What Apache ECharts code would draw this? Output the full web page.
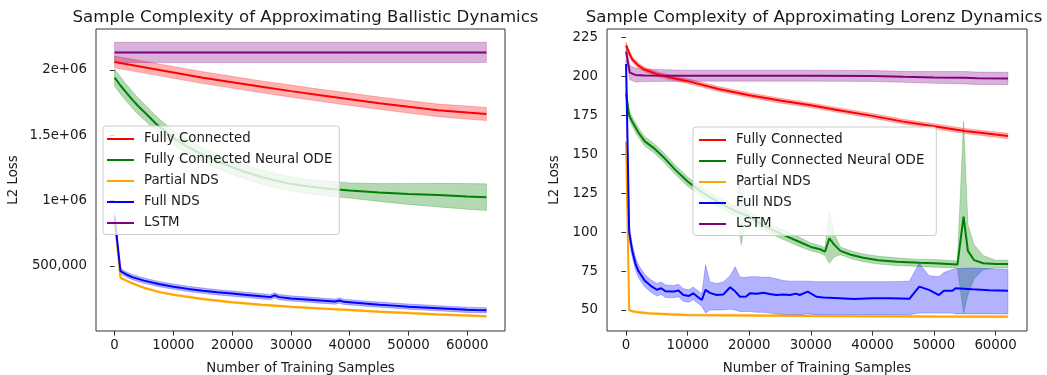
<!DOCTYPE html>
<html><head><meta charset="utf-8">
<script src="https://cdn.jsdelivr.net/npm/echarts@6/dist/echarts.min.js"></script>
<style>html,body{margin:0;padding:0;background:#fff}#c{width:1047px;height:375px}</style>
</head><body><div id="c"></div>
<script>
// ---------- tick labels ----------
const xTicks = [0, 10000, 20000, 30000, 40000, 50000, 60000];
const yTicksBallistic = [500000, 1000000, 1500000, 2000000];
const yTickLabelsBallistic = ['500,000', '1e+06', '1.5e+06', '2e+06'];
const yTicksLorenz = [50, 75, 100, 125, 150, 175, 200, 225];
const seriesNames = ['Fully Connected', 'Fully Connected Neural ODE', 'Partial NDS', 'Full NDS', 'LSTM'];

// ---------- Ballistic (left) : x, mean, half band ----------
const bFC_x = [0, 5000, 10000, 15000, 20000, 25000, 30000, 35000, 40000, 45000, 50000, 55000, 60000, 63250];
const bFC_y = [2060000, 2020000, 1980000, 1940000, 1905000, 1870000, 1837000, 1805000, 1775000, 1745000, 1717000, 1690000, 1673000, 1662000];
const bFC_hw = [45000, 45000, 45000, 45000, 45000, 45000, 46000, 46000, 47000, 47000, 48000, 48000, 50000, 50000];

const bODE_x = [0, 1000, 2000, 3000, 4000, 5000, 6000, 7000, 8000, 10000, 12500, 15000, 17500, 20000, 22500, 25000, 27500, 30000, 33000, 36000, 40000, 45000, 50000, 55000, 60000, 63250];
const bODE_y = [1940000, 1880000, 1825000, 1772000, 1723000, 1680000, 1635000, 1590000, 1550000, 1480000, 1410000, 1350000, 1300000, 1255000, 1215000, 1180000, 1152000, 1128000, 1108000, 1093000, 1077000, 1062000, 1051000, 1042000, 1032000, 1026000];
const bODE_hw = [65000, 65000, 65000, 65000, 62000, 60000, 60000, 58000, 58000, 55000, 55000, 55000, 55000, 55000, 55000, 55000, 55000, 55000, 55000, 57000, 58000, 68000, 80000, 90000, 98000, 102000];

const bPNDS_x = [0, 1000, 2000, 3000, 5000, 7500, 10000, 15000, 20000, 25000, 30000, 35000, 40000, 45000, 50000, 55000, 60000, 63250];
const bPNDS_y = [850000, 410000, 388000, 368000, 333000, 302000, 280000, 247000, 222000, 203000, 188000, 175000, 163000, 151000, 140000, 130000, 121000, 115000];
const bPNDS_hw = [10000, 8000, 8000, 8000, 8000, 8000, 8000, 8000, 8000, 8000, 8000, 8000, 8000, 8000, 8000, 8000, 8000, 8000];

const bFNDS_x = [0, 1000, 2000, 3000, 5000, 7500, 10000, 12500, 15000, 17500, 20000, 22500, 25000, 26500, 27200, 28000, 30000, 32500, 35000, 37500, 38300, 39000, 42500, 45000, 47500, 50000, 52500, 55000, 57500, 60000, 61500, 63250];
const bFNDS_y = [880000, 460000, 435000, 415000, 388000, 362000, 342000, 325000, 311000, 299000, 289000, 279000, 268000, 262000, 276000, 262000, 252000, 244000, 236000, 228000, 236000, 226000, 213000, 204000, 197000, 189000, 183000, 177000, 171000, 165000, 163000, 161000];
const bFNDS_hw = [30000, 22000, 20000, 20000, 20000, 20000, 20000, 20000, 20000, 20000, 20000, 20000, 20000, 20000, 20000, 20000, 20000, 20000, 20000, 20000, 20000, 20000, 20000, 20000, 20000, 20000, 20000, 20000, 20000, 20000, 20000, 20000];

const bLSTM_x = [0, 10000, 20000, 30000, 40000, 50000, 60000, 63250];
const bLSTM_y = [2133000, 2133000, 2133000, 2133000, 2133000, 2133000, 2133000, 2133000];
const bLSTM_hw = [77000, 77000, 77000, 77000, 77000, 77000, 77000, 77000];

// ---------- Lorenz (right) ----------
const lFC_x = [0, 500, 1000, 2000, 3000, 5000, 7000, 10000, 15000, 20000, 25000, 30000, 35000, 40000, 45000, 50000, 55000, 60000, 62000];
const lFC_y = [220, 215, 211, 207, 204.5, 201.5, 199.5, 197, 192, 188, 184.5, 181.5, 178, 174.7, 171, 168, 165, 162.7, 161.8];
const lFC_hw = [2, 2, 1.8, 1.6, 1.5, 1.5, 1.5, 1.5, 1.5, 1.5, 1.5, 1.5, 1.5, 1.5, 1.5, 1.6, 1.6, 1.7, 1.7];

const lODE_x = [0, 500, 1000, 2000, 3000, 4500, 6000, 8000, 10000, 12000, 14000, 16000, 18000, 18700, 19400, 20000, 22000, 24000, 26000, 28000, 30000, 31500, 32300, 33000, 33800, 34800, 36500, 38500, 41000, 44000, 47600, 50000, 53800, 54800, 55500, 56500, 58000, 60000, 62000];
const lODE_y = [189, 175, 171, 164, 158.5, 154, 148.5, 140, 132.5, 126.5, 121.5, 117, 113, 112, 111, 110, 105, 101, 97.5, 94, 90.5, 89, 87.5, 96, 92, 88, 85.5, 83.5, 82, 81, 80.3, 80, 79.2, 110, 88, 82, 80, 79.5, 79.5];
const lODE_lo = [186, 172, 168, 161, 155.5, 151, 145.5, 137, 129.5, 123.5, 118.5, 114, 110, 92, 108, 107, 102, 98, 94.5, 91, 88, 86.5, 85, 80, 84, 85.5, 83, 81, 79.5, 78.5, 78, 77.5, 77, 48, 60, 70, 76, 77, 77];
const lODE_hi = [192, 178, 174, 167, 161.5, 157, 151.5, 143, 135.5, 129.5, 124.5, 120, 116, 148, 114, 113, 108, 104, 100.5, 97, 93, 91.5, 90, 113, 99, 90.5, 88, 86, 84.5, 83.5, 82.5, 82.5, 81.5, 171, 105, 92, 85, 82, 82];

const lPNDS_x = [0, 500, 1000, 2000, 4000, 7000, 10000, 20000, 30000, 40000, 50000, 62000];
const lPNDS_y = [158, 50, 49.2, 48.5, 47.8, 47.2, 46.8, 46.5, 46.2, 46, 45.8, 45.7];
const lPNDS_hw = [0.8, 0.8, 0.7, 0.7, 0.7, 0.7, 0.7, 0.7, 0.7, 0.7, 0.7, 0.7];

const lFNDS_x = [0, 500, 1000, 1500, 2000, 3000, 4000, 5000, 5700, 6400, 7700, 8500, 9300, 10200, 10900, 11600, 12300, 12900, 13600, 14700, 15800, 16900, 17700, 18500, 19500, 20100, 21200, 22300, 23300, 24400, 25500, 26600, 27600, 28200, 29500, 30900, 32000, 34700, 37000, 40000, 43000, 46000, 47600, 49200, 50800, 51600, 53000, 53500, 56200, 59000, 62000];
const lFNDS_y = [208, 100, 88, 80, 75, 69, 65.5, 63, 64, 62, 61.8, 62.5, 59.6, 59, 60.7, 58.5, 56.4, 63, 61, 59.6, 60, 64.6, 62, 58.5, 58.7, 60.7, 60.5, 61.1, 60.3, 59.6, 60, 59.6, 60.5, 59.6, 61.8, 58.5, 58, 57.5, 57, 57.5, 57.5, 57.2, 65, 62.9, 59.6, 62.4, 62.4, 64, 63.3, 62.6, 62.4];
const lFNDS_lo = [205, 95, 84, 76, 71, 65, 61.5, 59, 60, 58, 57.8, 58.5, 55.6, 55, 56.7, 54.5, 52.4, 48, 50, 50, 50, 50.5, 50, 49, 49, 49, 48.5, 48.5, 48, 47.5, 47, 47, 47, 47, 47.5, 47, 47, 47, 47, 47, 47, 47, 48, 48, 48, 48, 48, 47.5, 47.5, 47.5, 47.5];
const lFNDS_hi = [211, 105, 92, 84, 79, 73, 69.5, 67, 68, 66, 65.8, 66.5, 63.6, 63, 64.7, 62.5, 60.4, 79, 68, 67, 68, 72, 77.8, 71, 71, 71.4, 71.4, 71, 71, 70, 69, 68.5, 68.5, 68.5, 68.5, 68.2, 68.2, 68.2, 68.2, 68.2, 68.2, 68.5, 80, 72, 71.4, 74, 76, 76.5, 77, 76.5, 76];

const lLSTM_x = [0, 600, 1500, 3000, 10000, 20000, 30000, 40000, 45000, 50000, 55000, 57000, 62000];
const lLSTM_y = [216, 202.5, 201, 200.7, 200.5, 200.5, 200.5, 200.3, 199.8, 199.4, 199.2, 198.8, 198.7];
const lLSTM_hw = [3, 4.5, 4.5, 4, 3.5, 3.5, 3.5, 3.5, 3.5, 3.8, 4, 4, 4];

// ---------- build ----------
const FONT = 'DejaVu Sans';
const FS = 13.33;
const COLORS = {'Fully Connected': '#ff0000', 'Fully Connected Neural ODE': '#008000', 'Partial NDS': '#ffa500', 'Full NDS': '#0000ff', 'LSTM': '#800080'};
function rgba(hex, a) {
  const r = parseInt(hex.slice(1, 3), 16), g = parseInt(hex.slice(3, 5), 16), b = parseInt(hex.slice(5, 7), 16);
  return 'rgba(' + r + ',' + g + ',' + b + ',' + a + ')';
}
function bandRenderer(color) {
  return function (params, api) {
    if (params.dataIndexInside !== 0) return null;
    const n = params.dataInsideLength;
    const upper = [], lower = [];
    for (let i = 0; i < n; i++) {
      const x = api.value(0, i);
      upper.push(api.coord([x, api.value(2, i)]));
      lower.push(api.coord([x, api.value(1, i)]));
    }
    const pts = upper.concat(lower.reverse());
    return {
      type: 'polygon',
      shape: {points: pts},
      style: {fill: rgba(color, 0.3), stroke: rgba(color, 0.3), lineWidth: 0.8},
      silent: true
    };
  };
}
const series = [];
function addModel(gi, name, xs, ys, lo, hi) {
  const color = COLORS[name];
  series.push({
    type: 'custom', name: 'band_' + gi + '_' + name, xAxisIndex: gi, yAxisIndex: gi,
    data: xs.map((x, i) => [x, lo[i], hi[i]]), encode: {x: 0, y: [1, 2]},
    renderItem: bandRenderer(color), clip: true, silent: true, animation: false
  });
  series.push({
    type: 'line', name: name, xAxisIndex: gi, yAxisIndex: gi, color: color,
    data: xs.map((x, i) => [x, ys[i]]), symbol: 'none', showSymbol: false,
    lineStyle: {color: color, width: 2}, itemStyle: {color: color},
    animation: false, silent: true, emphasis: {disabled: true}, clip: true
  });
}
function hwModel(gi, name, xs, ys, hw) {
  addModel(gi, name, xs, ys, ys.map((v, i) => v - hw[i]), ys.map((v, i) => v + hw[i]));
}
hwModel(0, 'Fully Connected', bFC_x, bFC_y, bFC_hw);
hwModel(0, 'Fully Connected Neural ODE', bODE_x, bODE_y, bODE_hw);
hwModel(0, 'Partial NDS', bPNDS_x, bPNDS_y, bPNDS_hw);
hwModel(0, 'Full NDS', bFNDS_x, bFNDS_y, bFNDS_hw);
hwModel(0, 'LSTM', bLSTM_x, bLSTM_y, bLSTM_hw);
hwModel(1, 'Fully Connected', lFC_x, lFC_y, lFC_hw);
addModel(1, 'Fully Connected Neural ODE', lODE_x, lODE_y, lODE_lo, lODE_hi);
hwModel(1, 'Partial NDS', lPNDS_x, lPNDS_y, lPNDS_hw);
addModel(1, 'Full NDS', lFNDS_x, lFNDS_y, lFNDS_lo, lFNDS_hi);
hwModel(1, 'LSTM', lLSTM_x, lLSTM_y, lLSTM_hw);

const labelStyle = {fontFamily: FONT, fontSize: FS, color: '#1a1a1a'};
function xAxis(gi, min, max) {
  return {
    gridIndex: gi, type: 'value', min: min, max: max,
    axisLine: {show: false}, splitLine: {show: false},
    axisTick: {show: true, length: 4.7, customValues: xTicks, lineStyle: {color: '#333', width: 1}},
    axisLabel: Object.assign({customValues: xTicks, margin: 8, formatter: v => String(v)}, labelStyle),
    name: 'Number of Training Samples', nameLocation: 'middle', nameGap: 31,
    nameTextStyle: labelStyle
  };
}
function yAxis(gi, min, max, ticks, fmt, gap) {
  return {
    gridIndex: gi, type: 'value', min: min, max: max,
    axisLine: {show: false}, splitLine: {show: false},
    axisTick: {show: true, length: 4.7, customValues: ticks, lineStyle: {color: '#333', width: 1}},
    axisLabel: Object.assign({customValues: ticks, margin: 9, formatter: fmt}, labelStyle),
    name: 'L2 Loss', nameLocation: 'middle', nameGap: gap, nameRotate: 90,
    nameTextStyle: labelStyle
  };
}
const lineIcon = 'path://M0,0L27,0L27,2L0,2Z';
function legend(left, top, padRight, padLeft) {
  return {
    orient: 'vertical', left: left, top: top,
    data: seriesNames.map(n => ({name: n, icon: lineIcon})),
    itemWidth: 27, itemHeight: 14, itemGap: 8, padding: [6.5, padRight, 5, padLeft],
    backgroundColor: 'rgba(255,255,255,0.8)', borderColor: '#cccccc', borderWidth: 1, borderRadius: 3,
    textStyle: {fontFamily: FONT, fontSize: FS, color: '#1a1a1a', padding: [0, 0, 0, 5]},
    selectedMode: false, z: 10
  };
}
const option = {
  animation: false,
  backgroundColor: '#ffffff',
  title: [
    {text: 'Sample Complexity of Approximating Ballistic Dynamics', left: 300.5, top: 4, textAlign: 'center',
     textStyle: {fontFamily: FONT, fontSize: 16.6, fontWeight: 'normal', color: '#1a1a1a'}},
    {text: 'Sample Complexity of Approximating Lorenz Dynamics', left: 809, top: 4, textAlign: 'center',
     textStyle: {fontFamily: FONT, fontSize: 16.6, fontWeight: 'normal', color: '#1a1a1a'}}
  ],
  grid: [
    {left: 96, top: 29, width: 409, height: 302, show: true, borderColor: '#333', borderWidth: 1, backgroundColor: 'transparent', outerBoundsMode: 'none'},
    {left: 607, top: 29, width: 420, height: 302, show: true, borderColor: '#333', borderWidth: 1, backgroundColor: 'transparent', outerBoundsMode: 'none'}
  ],
  xAxis: [xAxis(0, -3162.5, 66412.5), xAxis(1, -3100, 65100)],
  yAxis: [
    yAxis(0, 3000, 2312000, yTicksBallistic, v => { const i = yTicksBallistic.indexOf(v); return i >= 0 ? yTickLabelsBallistic[i] : ''; }, 76),
    yAxis(1, 36.5, 230.5, yTicksLorenz, v => String(v), 46)
  ],
  legend: [legend(103, 126, 7, 4), legend(693, 127, 12, 6)],
  series: series
};
const chart = echarts.init(document.getElementById('c'), null, {renderer: 'canvas'});
chart.setOption(option);
</script></body></html>
